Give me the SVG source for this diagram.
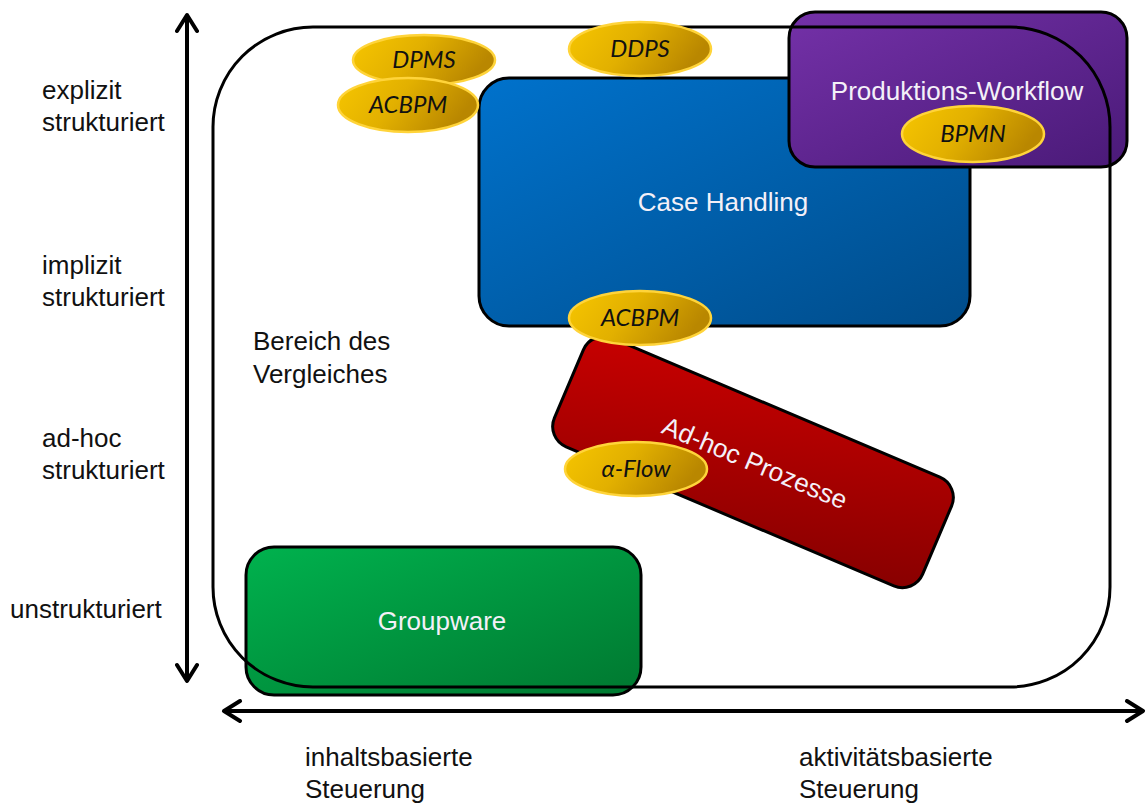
<svg xmlns="http://www.w3.org/2000/svg" width="1146" height="807" viewBox="0 0 1146 807">
  <defs>
    <linearGradient id="gBlue" x1="0" y1="0" x2="1" y2="1">
      <stop offset="0" stop-color="#0072CC"/>
      <stop offset="1" stop-color="#004C8A"/>
    </linearGradient>
    <linearGradient id="gPurple" x1="0" y1="0" x2="1" y2="1">
      <stop offset="0" stop-color="#7431A8"/>
      <stop offset="1" stop-color="#4A1A78"/>
    </linearGradient>
    <linearGradient id="gRed" x1="0" y1="0" x2="1" y2="1">
      <stop offset="0" stop-color="#C80000"/>
      <stop offset="1" stop-color="#870000"/>
    </linearGradient>
    <linearGradient id="gGreen" x1="0" y1="0" x2="1" y2="1">
      <stop offset="0" stop-color="#00B24E"/>
      <stop offset="1" stop-color="#007830"/>
    </linearGradient>
    <linearGradient id="gGold" x1="0" y1="0" x2="1" y2="0.3">
      <stop offset="0" stop-color="#F7C600"/>
      <stop offset="0.5" stop-color="#E2B000"/>
      <stop offset="1" stop-color="#B98700"/>
    </linearGradient>
    <marker id="chev" viewBox="0 0 12 12" refX="10" refY="6" markerWidth="6" markerHeight="6" markerUnits="strokeWidth" orient="auto-start-reverse">
      <path d="M2,1 L10,6 L2,11" fill="none" stroke="#000" stroke-width="2" stroke-linecap="round" stroke-linejoin="round"/>
    </marker>
  </defs>
  <style>
    .lbl { font-family: "Liberation Sans", Arial, sans-serif; font-size: 26px; fill: #111; }
    .box { stroke: #000; stroke-width: 3; }
    .boxtxt { font-family: "Liberation Sans", Arial, sans-serif; font-size: 26px; fill: #F4F0F8; text-anchor: middle; }
    .tag { fill: url(#gGold); stroke: #FFD43A; stroke-width: 2.5; }
    .tagtxt { font-family: Lato, "Open Sans", sans-serif; font-style: italic; font-size: 24px; fill: #111; text-anchor: middle; }
    .axis { stroke: #000; stroke-width: 4; fill: none; }
    .frame { fill: none; stroke: #000; stroke-width: 3; }
  </style>

  <rect width="1146" height="807" fill="#fff"/>

  <!-- axis labels -->
  <g id="y-labels">
    <text class="lbl" x="42" y="99">explizit</text>
    <text class="lbl" x="42" y="131">strukturiert</text>
    <text class="lbl" x="42" y="274">implizit</text>
    <text class="lbl" x="42" y="306">strukturiert</text>
    <text class="lbl" x="42" y="447">ad-hoc</text>
    <text class="lbl" x="42" y="479">strukturiert</text>
    <text class="lbl" x="10" y="618">unstrukturiert</text>
  </g>
  <g id="x-labels">
    <text class="lbl" x="305" y="766">inhaltsbasierte</text>
    <text class="lbl" x="305" y="798">Steuerung</text>
    <text class="lbl" x="799" y="766">aktivitätsbasierte</text>
    <text class="lbl" x="799" y="798">Steuerung</text>
  </g>

  <!-- category boxes -->
  <g id="groupware">
    <rect class="box" x="246" y="547" width="395" height="148" rx="28" fill="url(#gGreen)"/>
    <text class="boxtxt" x="442" y="630">Groupware</text>
  </g>
  <g id="case-handling">
    <rect class="box" x="479" y="78" width="491" height="248" rx="30" fill="url(#gBlue)"/>
    <text class="boxtxt" x="723" y="211">Case Handling</text>
  </g>
  <g id="produktions-workflow">
    <rect class="box" x="789" y="12" width="338" height="155" rx="26" fill="url(#gPurple)"/>
    <text class="boxtxt" x="957" y="100">Produktions-Workflow</text>
  </g>
  <g id="ad-hoc-prozesse" transform="rotate(23 753 462)">
    <rect class="box" x="553" y="403" width="400" height="118" rx="22" fill="url(#gRed)"/>
    <text class="boxtxt" x="755" y="471">Ad-hoc Prozesse</text>
  </g>

  <!-- comparison area -->
  <g id="vergleichsbereich">
    <rect class="frame" x="213" y="27" width="897" height="660" rx="100"/>
    <text class="lbl" x="253" y="350">Bereich des</text>
    <text class="lbl" x="253" y="383">Vergleiches</text>
  </g>

  <!-- approach tags -->
  <g id="tag-dpms">
    <ellipse class="tag" cx="424" cy="60" rx="71" ry="25"/>
    <text class="tagtxt" x="424" y="68">DPMS</text>
  </g>
  <g id="tag-acbpm-top">
    <ellipse class="tag" cx="408" cy="105" rx="70" ry="27"/>
    <text class="tagtxt" x="408" y="113">ACBPM</text>
  </g>
  <g id="tag-ddps">
    <ellipse class="tag" cx="640" cy="49" rx="71" ry="27"/>
    <text class="tagtxt" x="640" y="57">DDPS</text>
  </g>
  <g id="tag-bpmn">
    <ellipse class="tag" cx="973" cy="134" rx="71" ry="28"/>
    <text class="tagtxt" x="973" y="142">BPMN</text>
  </g>
  <g id="tag-acbpm-mid">
    <ellipse class="tag" cx="640" cy="318" rx="71" ry="27"/>
    <text class="tagtxt" x="640" y="326">ACBPM</text>
  </g>
  <g id="tag-alphaflow">
    <ellipse class="tag" cx="636" cy="469" rx="71" ry="27"/>
    <text class="tagtxt" x="636" y="477">α-Flow</text>
  </g>

  <!-- axes -->
  <g id="connectors">
    <line class="axis" x1="187" y1="681" x2="187" y2="15" marker-start="url(#chev)" marker-end="url(#chev)"/>
    <line class="axis" x1="224" y1="711" x2="1143" y2="711" marker-start="url(#chev)" marker-end="url(#chev)"/>
  </g>
</svg>
